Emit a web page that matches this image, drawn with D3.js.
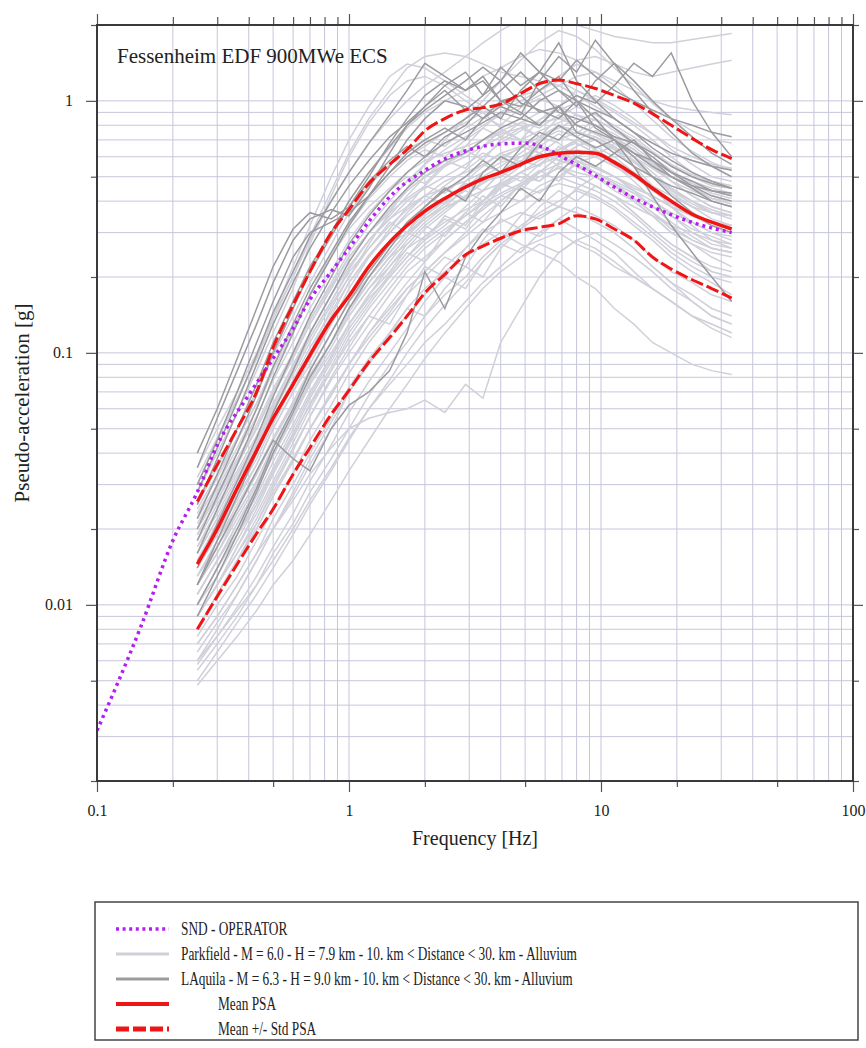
<!DOCTYPE html>
<html>
<head>
<meta charset="utf-8">
<script src="https://cdn.jsdelivr.net/npm/d3@7"></script>
<style>
    body { margin: 0; background: #fff; }
    text { font-family: "Liberation Serif", "Times New Roman", serif; fill: #222; }
</style>
</head>
<body>
<svg id="chart" width="866" height="1048"></svg>
<script>
// Frequency grid (Hz) shared by the recorded spectra and the statistics
const freqs = [0.25, 0.3, 0.36, 0.43, 0.5, 0.6, 0.7, 0.85, 1.0, 1.2, 1.45, 1.7, 2.0, 2.4, 2.9, 3.4, 4.0, 4.8, 5.7, 6.8, 8.0, 9.5, 11.3, 13.5, 16, 19, 23, 27.5, 33];

// Parkfield records (light grey)
const parkfield = [
    [.014, .019, .027, .036, .05, .07, .09, .13, .17, .21, .27, .30, .36, .40, .47, .44, .52, .58, .55, .66, .60, .64, .55, .50, .46, .40, .36, .33, .31],
    [.03, .045, .065, .095, .14, .22, .32, .50, .70, .95, 1.25, 1.4, 1.35, 1.2, 1.05, .95, .85, .80, .72, .68, .60, .55, .50, .45, .42, .38, .35, .33, .32],
    [.005, .0065, .0085, .011, .014, .019, .025, .034, .045, .06, .075, .09, .11, .13, .16, .19, .22, .26, .28, .30, .27, .25, .22, .20, .18, .16, .14, .13, .12],
    [.006, .008, .011, .015, .02, .027, .036, .05, .07, .09, .12, .14, .17, .22, .26, .30, .33, .36, .34, .38, .36, .33, .30, .26, .22, .19, .17, .15, .14],
    [.022, .03, .042, .06, .085, .12, .17, .25, .33, .42, .52, .60, .66, .75, .82, .90, .95, 1.05, 1.1, 1.2, 1.1, 1.0, .9, .8, .7, .6, .52, .47, .45],
    [.01, .014, .019, .026, .035, .05, .068, .095, .13, .17, .21, .26, .31, .36, .42, .48, .50, .56, .62, .70, .75, .72, .66, .58, .50, .43, .38, .34, .32],
    [.008, .011, .015, .02, .027, .038, .05, .07, .09, .12, .15, .18, .21, .25, .30, .35, .40, .46, .52, .60, .66, .70, .64, .55, .46, .38, .32, .28, .26],
    [.018, .025, .034, .047, .063, .09, .12, .17, .22, .28, .34, .40, .45, .50, .56, .62, .58, .66, .72, .80, .76, .70, .64, .58, .50, .44, .40, .36, .35],
    [.007, .009, .012, .016, .02, .026, .033, .042, .05, .055, .058, .06, .065, .058, .075, .066, .11, .15, .20, .25, .28, .30, .27, .24, .21, .18, .16, .14, .13],
    [.012, .016, .022, .03, .04, .056, .075, .105, .14, .18, .23, .28, .33, .38, .45, .52, .60, .65, .72, .78, .85, .80, .72, .62, .55, .48, .42, .38, .36],
    [.015, .02, .028, .038, .052, .075, .10, .15, .20, .27, .36, .45, .56, .70, .85, 1.0, 1.2, 1.45, 1.7, 1.9, 1.8, 1.6, 1.35, 1.15, .98, .85, .76, .70, .68],
    [.009, .012, .016, .022, .03, .042, .056, .078, .10, .13, .17, .21, .24, .28, .33, .37, .42, .40, .46, .50, .47, .44, .40, .35, .30, .26, .23, .21, .20],
    [.02, .027, .037, .05, .07, .10, .135, .19, .25, .32, .40, .48, .56, .64, .72, .80, .88, .96, 1.05, 1.15, 1.25, 1.3, 1.2, 1.1, 1.0, .95, .92, .90, .88],
    [.035, .05, .07, .10, .14, .20, .28, .40, .52, .68, .85, 1.0, 1.15, 1.3, 1.5, 1.7, 1.9, 2.1, 2.2, 2.1, 2.0, 1.9, 1.8, 1.75, 1.7, 1.7, 1.75, 1.8, 1.85],
    [.025, .035, .05, .07, .10, .15, .21, .30, .40, .52, .65, .78, .90, 1.0, 1.1, 1.25, 1.35, 1.5, 1.6, 1.55, 1.45, 1.5, 1.4, 1.3, 1.25, 1.3, 1.35, 1.4, 1.45],
    [.028, .04, .058, .085, .12, .18, .27, .42, .60, .82, 1.05, 1.2, 1.25, 1.15, 1.0, .90, .78, .70, .62, .55, .50, .46, .42, .38, .35, .32, .30, .28, .27],
    [.013, .018, .024, .033, .045, .062, .08, .11, .14, .18, .22, .26, .29, .33, .37, .40, .45, .50, .48, .55, .52, .50, .46, .41, .36, .32, .28, .26, .25],
    [.011, .015, .021, .029, .039, .055, .075, .10, .13, .165, .20, .24, .28, .32, .38, .44, .52, .48, .56, .64, .70, .66, .60, .52, .45, .38, .33, .30, .28],
    [.016, .022, .031, .042, .058, .082, .11, .155, .20, .26, .32, .37, .42, .48, .52, .56, .62, .66, .62, .58, .55, .52, .48, .44, .40, .36, .33, .30, .29],
    [.006, .0075, .0095, .012, .016, .021, .028, .038, .05, .068, .09, .11, .14, .17, .20, .24, .28, .32, .36, .40, .44, .41, .37, .32, .28, .24, .21, .19, .17],
    [.009, .012, .017, .023, .031, .044, .06, .085, .115, .15, .19, .23, .27, .31, .35, .39, .43, .47, .52, .56, .60, .55, .50, .44, .38, .33, .29, .26, .25],
    [.02, .028, .038, .052, .072, .10, .135, .185, .24, .30, .37, .44, .50, .56, .62, .70, .76, .82, .90, .95, .88, .80, .72, .64, .56, .50, .45, .42, .40],
    [.007, .009, .012, .016, .022, .03, .04, .055, .073, .095, .12, .15, .18, .21, .24, .27, .30, .27, .25, .23, .20, .18, .15, .13, .11, .10, .09, .085, .082],
    [.012, .017, .023, .031, .042, .06, .08, .11, .15, .19, .24, .29, .35, .40, .46, .50, .55, .62, .70, .76, .72, .80, .74, .66, .58, .52, .47, .44, .42],
    [.017, .024, .033, .045, .062, .088, .12, .17, .22, .28, .34, .38, .42, .45, .48, .52, .57, .60, .65, .62, .58, .54, .50, .46, .42, .38, .35, .33, .32],
    [.008, .011, .015, .02, .027, .037, .05, .068, .09, .12, .155, .19, .23, .28, .33, .38, .42, .46, .50, .54, .50, .46, .42, .36, .31, .27, .24, .22, .21],
    [.01, .014, .019, .025, .034, .047, .062, .085, .11, .14, .18, .22, .26, .30, .35, .40, .46, .52, .58, .64, .70, .76, .72, .64, .56, .48, .42, .38, .36],
    [.014, .019, .026, .036, .05, .07, .095, .13, .18, .24, .31, .38, .46, .55, .66, .78, .90, 1.0, 1.1, 1.25, 1.4, 1.3, 1.15, .98, .84, .72, .63, .57, .53],
    [.0055, .007, .009, .012, .015, .02, .026, .035, .046, .06, .078, .10, .125, .155, .19, .23, .27, .31, .35, .38, .36, .33, .30, .26, .22, .19, .16, .14, .13],
    [.024, .033, .046, .063, .088, .125, .17, .24, .31, .38, .45, .52, .58, .62, .66, .70, .74, .78, .82, .85, .80, .74, .68, .62, .56, .52, .48, .45, .43],
    [.011, .015, .02, .027, .037, .052, .07, .097, .13, .17, .22, .27, .32, .37, .42, .47, .52, .56, .60, .64, .68, .62, .56, .48, .41, .35, .30, .27, .26],
    [.015, .021, .029, .04, .055, .078, .105, .145, .19, .24, .30, .35, .40, .46, .53, .60, .68, .76, .84, .92, .98, 1.05, .96, .85, .74, .64, .56, .50, .48],
    [.032, .046, .066, .095, .135, .20, .29, .44, .62, .85, 1.1, 1.35, 1.5, 1.55, 1.5, 1.4, 1.3, 1.25, 1.2, 1.15, 1.05, .95, .85, .75, .68, .62, .58, .55, .54],
    [.009, .012, .016, .021, .028, .038, .05, .068, .09, .115, .145, .18, .21, .25, .29, .33, .36, .40, .44, .47, .45, .42, .38, .33, .29, .25, .22, .20, .19],
    [.019, .026, .036, .05, .068, .095, .13, .18, .24, .30, .37, .44, .50, .55, .60, .66, .72, .70, .76, .82, .88, .84, .78, .70, .62, .55, .50, .46, .45],
    [.013, .018, .025, .034, .046, .064, .086, .12, .16, .20, .25, .30, .34, .38, .41, .44, .47, .52, .56, .60, .57, .60, .55, .50, .44, .39, .35, .32, .30],
    [.0048, .006, .0075, .0095, .012, .015, .019, .026, .034, .045, .06, .075, .095, .12, .15, .18, .21, .24, .27, .25, .28, .26, .23, .20, .18, .16, .14, .125, .115],
    [.012, .016, .023, .031, .043, .06, .082, .11, .15, .19, .24, .27, .32, .29, .36, .42, .38, .47, .53, .48, .58, .52, .47, .43, .38, .35, .31, .29, .27],
    [.017, .023, .032, .044, .06, .085, .115, .16, .21, .26, .33, .30, .38, .45, .41, .52, .60, .55, .66, .74, .68, .62, .66, .58, .50, .45, .40, .37, .35],
    [.008, .011, .015, .021, .029, .041, .056, .08, .105, .14, .13, .17, .22, .20, .26, .31, .28, .35, .41, .38, .45, .50, .44, .40, .35, .30, .27, .24, .22],
    [.021, .029, .04, .056, .078, .11, .15, .21, .28, .36, .44, .50, .47, .56, .64, .58, .70, .78, .72, .86, .95, .88, .80, .72, .63, .56, .51, .48, .46],
    [.01, .013, .018, .025, .034, .048, .066, .092, .125, .16, .205, .25, .23, .30, .36, .33, .40, .46, .43, .50, .56, .52, .47, .41, .36, .31, .28, .26, .25],
    [.015, .021, .029, .04, .055, .077, .10, .14, .19, .245, .30, .36, .42, .39, .48, .55, .62, .57, .70, .80, .74, .85, .76, .68, .60, .53, .47, .43, .41],
    [.0065, .0085, .011, .015, .02, .028, .038, .053, .07, .092, .12, .15, .14, .18, .22, .20, .26, .31, .29, .34, .38, .35, .32, .28, .24, .21, .19, .17, .16],
    [.026, .036, .05, .07, .098, .14, .19, .27, .36, .46, .56, .64, .70, .66, .78, .86, .80, .94, 1.02, .95, 1.1, 1.02, .92, .82, .74, .66, .60, .56, .54],
    [.013, .017, .024, .033, .045, .063, .085, .12, .16, .20, .25, .30, .28, .35, .32, .40, .47, .44, .52, .60, .55, .50, .46, .40, .35, .30, .27, .25, .24],
    [.009, .012, .017, .024, .033, .046, .063, .088, .12, .155, .20, .24, .29, .34, .31, .38, .45, .52, .48, .57, .64, .60, .68, .60, .52, .45, .40, .36, .34],
    [.019, .026, .036, .05, .069, .097, .13, .18, .24, .30, .36, .41, .46, .43, .50, .56, .52, .60, .66, .62, .70, .64, .58, .52, .46, .42, .38, .36, .35],
    [.0075, .01, .013, .018, .024, .033, .045, .062, .083, .11, .14, .17, .20, .24, .22, .28, .34, .31, .38, .44, .40, .46, .42, .36, .31, .27, .24, .21, .20],
    [.011, .015, .021, .029, .04, .056, .077, .11, .145, .19, .24, .29, .34, .39, .44, .40, .48, .55, .62, .58, .66, .72, .65, .57, .50, .44, .39, .36, .35],
    [.016, .022, .031, .043, .06, .085, .115, .16, .215, .28, .35, .42, .50, .58, .54, .66, .76, .70, .84, .95, .88, .80, .72, .64, .57, .50, .45, .41, .39],
    [.023, .032, .045, .063, .088, .125, .17, .24, .32, .41, .50, .58, .64, .60, .70, .78, .72, .82, .78, .88, .80, .74, .68, .60, .54, .48, .44, .41, .40],
    [.0058, .0075, .0098, .013, .017, .023, .031, .043, .058, .077, .10, .125, .16, .20, .18, .23, .27, .25, .30, .34, .31, .28, .25, .21, .18, .16, .14, .13, .12]
];

// LAquila records (dark grey)
const laquila = [
    [.04, .06, .095, .15, .22, .31, .36, .34, .38, .50, .68, .85, 1.05, 1.2, 1.1, 1.25, 1.0, .95, 1.1, .90, .85, .80, .72, .68, .62, .55, .50, .47, .45],
    [.035, .055, .085, .13, .19, .28, .34, .37, .35, .45, .62, .80, .95, 1.15, 1.3, 1.05, 1.2, .98, .92, .85, 1.0, .78, .70, .62, .58, .52, .48, .44, .42],
    [.025, .038, .058, .09, .13, .19, .26, .36, .46, .58, .72, .82, .95, 1.1, .92, 1.05, 1.36, 1.15, 1.3, 1.2, 1.45, 1.25, 1.1, 1.0, .92, .85, .80, .75, .72],
    [.016, .024, .036, .055, .08, .12, .17, .24, .32, .42, .52, .62, .70, .78, .70, .85, .95, .88, 1.2, 1.5, 1.3, 1.74, 1.4, 1.1, .90, .75, .62, .55, .50],
    [.02, .03, .045, .068, .10, .15, .21, .29, .38, .48, .58, .66, .60, .72, .80, .95, .85, 1.1, 1.3, 1.7, 1.2, 1.0, .85, .75, .65, .58, .52, .48, .45],
    [.012, .018, .027, .04, .058, .085, .12, .17, .23, .30, .38, .45, .52, .58, .62, .70, .78, .85, .80, .95, 1.05, .98, 1.15, 1.41, 1.25, 1.55, 1.0, .75, .60],
    [.012, .017, .024, .034, .045, .038, .034, .05, .062, .07, .085, .12, .21, .15, .24, .30, .36, .45, .40, .52, .60, .55, .62, .70, .58, .50, .45, .40, .38],
    [.018, .027, .04, .06, .088, .13, .18, .25, .33, .42, .52, .60, .68, .75, .85, .95, 1.1, 1.3, 1.1, 1.25, 1.0, .85, .70, .55, .42, .32, .25, .20, .16],
    [.022, .033, .05, .075, .11, .16, .22, .30, .40, .52, .66, .80, .92, 1.05, 1.2, 1.36, 1.2, 1.55, 1.3, 1.1, 1.0, .92, .85, .75, .68, .62, .58, .55, .53],
    [.01, .014, .02, .029, .042, .06, .085, .12, .16, .21, .27, .33, .38, .44, .50, .58, .52, .65, .75, .70, .82, .90, .78, .68, .60, .52, .46, .42, .40],
    [.03, .045, .07, .11, .16, .24, .30, .33, .36, .42, .55, .70, .85, 1.0, .95, .85, 1.0, .90, .80, .95, .75, .70, .62, .55, .50, .46, .43, .40, .38],
    [.014, .021, .031, .046, .067, .10, .14, .20, .27, .35, .44, .52, .60, .68, .75, .82, .90, .85, 1.0, 1.1, .95, 1.2, 1.41, 1.2, 1.0, .85, .72, .62, .56],
    [.009, .013, .019, .028, .04, .058, .08, .11, .15, .20, .26, .32, .38, .45, .40, .52, .60, .55, .68, .80, .72, .65, .70, .60, .50, .42, .36, .32, .30],
    [.028, .042, .064, .098, .145, .21, .29, .40, .52, .68, .88, 1.1, 1.41, 1.25, 1.1, 1.2, 1.0, 1.05, .90, .95, .80, .75, .70, .62, .55, .50, .46, .44, .43]
];

const meanPSA = [.0145, .02, .029, .041, .055, .075, .098, .135, .168, .22, .275, .32, .365, .41, .455, .49, .52, .56, .60, .62, .625, .62, .57, .51, .45, .40, .355, .33, .31];
const meanPlusStd = [.0257, .036, .05, .07, .105, .155, .21, .30, .37, .47, .56, .64, .76, .85, .92, .94, .97, 1.07, 1.17, 1.21, 1.17, 1.12, 1.05, .98, .89, .80, .71, .64, .59];
const meanMinusStd = [.008, .0108, .0145, .0192, .024, .033, .042, .057, .071, .092, .115, .14, .173, .205, .245, .265, .285, .305, .315, .325, .35, .34, .31, .28, .24, .215, .195, .18, .165];

// Operator spectrum (SND)
const sndFreqs = [0.1, 0.15, 0.2, 0.25, 0.3, 0.4, 0.5, 0.6, 0.7, 0.85, 1.0, 1.25, 1.5, 2.0, 2.5, 3.0, 4.0, 5.0, 6.0, 7.0, 8.5, 10, 13, 17, 24, 33];
const sndPSA = [.00317, .0083, .018, .028, .043, .068, .095, .125, .163, .21, .26, .35, .43, .53, .60, .64, .675, .68, .65, .60, .54, .49, .42, .37, .325, .30];

const xMajorTicks = [0.1, 1, 10, 100];
const xMinorTicks = [0.2, 0.5, 2, 5, 20, 50];
const yMajorTicks = [0.01, 0.1, 1];
const yMinorTicks = [0.002, 0.005, 0.02, 0.05, 0.2, 0.5, 2];

const legendLabels = [
    "SND - OPERATOR",
    "Parkfield - M = 6.0 - H = 7.9 km - 10. km < Distance < 30. km - Alluvium",
    "LAquila - M = 6.3 - H = 9.0 km - 10. km < Distance < 30. km - Alluvium",
    "Mean PSA",
    "Mean +/- Std PSA"
];

const svg = d3.select('#chart');
const plot = {left: 97, right: 853, top: 25, bottom: 781};

const x = d3.scaleLog().domain([0.1, 100]).range([plot.left, plot.right]);
const y = d3.scaleLog().domain([0.002, 2]).range([plot.bottom, plot.top]);

const GRID = "#c6c6dc";
const LIGHT = "#d0d0da";
const DARK = "#9c9ca0";
const RED = "#f01414";
const PURPLE = "#b41ef0";

svg.append('defs').append('clipPath')
    .attr('id', 'plotClip')
    .append('rect')
    .attr('x', plot.left)
    .attr('y', plot.top)
    .attr('width', plot.right - plot.left)
    .attr('height', plot.bottom - plot.top);

// Grid
let grid = svg.append('g').attr('class', 'grid');
grid.selectAll('.vgrid')
    .data(x.ticks().filter(v => v > 0.1001 && v < 99.9))
    .enter()
    .append('line')
    .attr('class', 'vgrid')
    .attr('x1', d => x(d)).attr('x2', d => x(d))
    .attr('y1', plot.top).attr('y2', plot.bottom)
    .attr('stroke', GRID).attr('stroke-width', 1);
grid.selectAll('.hgrid')
    .data(y.ticks().filter(v => v > 0.00201 && v < 1.99))
    .enter()
    .append('line')
    .attr('class', 'hgrid')
    .attr('y1', d => y(d)).attr('y2', d => y(d))
    .attr('x1', plot.left).attr('x2', plot.right)
    .attr('stroke', GRID).attr('stroke-width', 1);

// Axes
const fmt = d => d3.format('~g')(d);
function styleAxis(g, withText) {
    g.select('.domain').remove();
    g.selectAll('.tick line').attr('stroke', '#555').attr('stroke-width', 1.2);
    if (withText) {
        g.selectAll('.tick text')
            .attr('fill', '#222')
            .style('font-family', '"Liberation Serif", serif')
            .style('font-size', '16px');
    } else {
        g.selectAll('.tick text').remove();
    }
}

svg.append('g').attr('transform', `translate(0,${plot.bottom})`)
    .call(d3.axisBottom(x).tickValues(xMajorTicks).tickSize(11).tickPadding(13).tickFormat(fmt))
    .call(g => styleAxis(g, true));
svg.append('g').attr('transform', `translate(0,${plot.bottom})`)
    .call(d3.axisBottom(x).tickValues(xMinorTicks).tickSize(6))
    .call(g => styleAxis(g, false));
svg.append('g').attr('transform', `translate(0,${plot.top})`)
    .call(d3.axisTop(x).tickValues(xMajorTicks).tickSize(11))
    .call(g => styleAxis(g, false));
svg.append('g').attr('transform', `translate(0,${plot.top})`)
    .call(d3.axisTop(x).tickValues(x.ticks().filter(v => xMajorTicks.indexOf(v) < 0)).tickSize(8))
    .call(g => styleAxis(g, false));
svg.append('g').attr('transform', `translate(${plot.left},0)`)
    .call(d3.axisLeft(y).tickValues(yMajorTicks).tickSize(11).tickPadding(13).tickFormat(fmt))
    .call(g => styleAxis(g, true));
svg.append('g').attr('transform', `translate(${plot.left},0)`)
    .call(d3.axisLeft(y).tickValues(yMinorTicks).tickSize(6))
    .call(g => styleAxis(g, false));
svg.append('g').attr('transform', `translate(${plot.right},0)`)
    .call(d3.axisRight(y).tickValues(yMajorTicks).tickSize(10))
    .call(g => styleAxis(g, false));
svg.append('g').attr('transform', `translate(${plot.right},0)`)
    .call(d3.axisRight(y).tickValues(yMinorTicks).tickSize(6))
    .call(g => styleAxis(g, false));

// Curves
const gridLine = d3.line().x((d, i) => x(freqs[i])).y(d => y(d));
const sndLine = d3.line().x((d, i) => x(sndFreqs[i])).y(d => y(d)).curve(d3.curveMonotoneX);
const statLine = d3.line().x((d, i) => x(freqs[i])).y(d => y(d)).curve(d3.curveMonotoneX);

let curves = svg.append('g').attr('clip-path', 'url(#plotClip)');

curves.selectAll('.parkfield')
    .data(parkfield)
    .enter()
    .append('path')
    .attr('class', 'parkfield')
    .attr('d', gridLine)
    .attr('fill', 'none')
    .attr('stroke', LIGHT)
    .attr('stroke-width', 1.5);

curves.selectAll('.laquila')
    .data(laquila)
    .enter()
    .append('path')
    .attr('class', 'laquila')
    .attr('d', gridLine)
    .attr('fill', 'none')
    .attr('stroke', DARK)
    .attr('stroke-width', 1.5);

curves.append('path')
    .attr('d', sndLine(sndPSA))
    .attr('fill', 'none')
    .attr('stroke', PURPLE)
    .attr('stroke-width', 3.5)
    .attr('stroke-dasharray', '3,4');

curves.selectAll('.stdLine')
    .data([meanPlusStd, meanMinusStd])
    .enter()
    .append('path')
    .attr('class', 'stdLine')
    .attr('d', statLine)
    .attr('fill', 'none')
    .attr('stroke', RED)
    .attr('stroke-width', 3)
    .attr('stroke-dasharray', '13,4');

curves.append('path')
    .attr('d', statLine(meanPSA))
    .attr('fill', 'none')
    .attr('stroke', RED)
    .attr('stroke-width', 3.5);

// Frame
svg.append('rect')
    .attr('x', plot.left).attr('y', plot.top)
    .attr('width', plot.right - plot.left)
    .attr('height', plot.bottom - plot.top)
    .attr('fill', 'none')
    .attr('stroke', '#3a3a3a')
    .attr('stroke-width', 2);

// Titles
svg.append('text')
    .text("Fessenheim EDF 900MWe ECS")
    .attr('x', 117).attr('y', 63)
    .style('font-size', '21px');

svg.append('text')
    .text("Frequency [Hz]")
    .attr('x', (plot.left + plot.right) / 2).attr('y', 845)
    .attr('text-anchor', 'middle')
    .style('font-size', '20px');

svg.append('text')
    .text("Pseudo-acceleration [g]")
    .attr('transform', `translate(29,${(plot.top + plot.bottom) / 2}) rotate(-90)`)
    .attr('text-anchor', 'middle')
    .style('font-size', '21px');

// Legend
let legend = svg.append('g').attr('class', 'legend');
legend.append('rect')
    .attr('x', 95).attr('y', 902)
    .attr('width', 763).attr('height', 138)
    .attr('fill', 'white')
    .attr('stroke', '#444')
    .attr('stroke-width', 1.5);

const legendStyle = [
    {color: PURPLE, width: 3.5, dash: '3,3.6', indent: 0},
    {color: LIGHT, width: 3, dash: null, indent: 0},
    {color: DARK, width: 3, dash: null, indent: 0},
    {color: RED, width: 4, dash: null, indent: 37},
    {color: RED, width: 5, dash: '13,4', indent: 37}
];

let rows = legend.selectAll('.legendRow')
    .data(legendLabels)
    .enter()
    .append('g')
    .attr('class', 'legendRow')
    .attr('transform', (d, i) => `translate(0,${929 + i * 25})`);

rows.append('line')
    .attr('x1', 116).attr('x2', 169)
    .attr('y1', 0).attr('y2', 0)
    .attr('stroke', (d, i) => legendStyle[i].color)
    .attr('stroke-width', (d, i) => legendStyle[i].width)
    .attr('stroke-dasharray', (d, i) => legendStyle[i].dash);

rows.append('text')
    .text(d => d)
    .attr('x', (d, i) => 181 + legendStyle[i].indent)
    .attr('y', 6)
    .style('font-size', '18px')
    .each(function () {
        let w = this.getComputedTextLength();
        d3.select(this)
            .attr('textLength', w * 0.74)
            .attr('lengthAdjust', 'spacingAndGlyphs');
    });
</script>
</body>
</html>
